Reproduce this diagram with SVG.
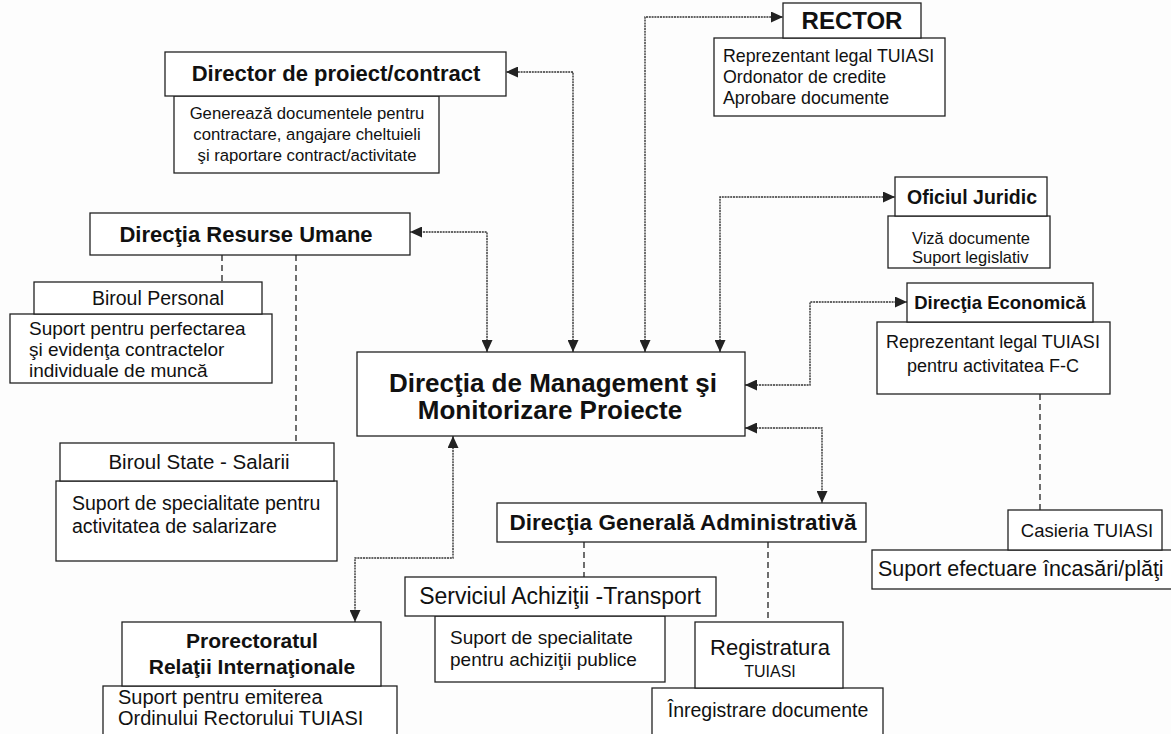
<svg xmlns="http://www.w3.org/2000/svg" width="1171" height="734" viewBox="0 0 1171 734">
<style>
.bx{fill:#fff;stroke:#222;stroke-width:1.3}
.hb{font-family:"Liberation Sans",Arial,sans-serif;font-weight:bold;fill:#111}
.t{font-family:"Liberation Sans",Arial,sans-serif;fill:#111}
.c{text-anchor:middle}
.con{fill:none;stroke:#333;stroke-width:1.4;stroke-dasharray:2 0.8}
.dash{fill:none;stroke:#222;stroke-width:1.3;stroke-dasharray:6 4}
</style>
<defs>
<marker id="ah" markerUnits="userSpaceOnUse" markerWidth="13" markerHeight="11" refX="12" refY="5.5" orient="auto-start-reverse">
<path d="M0,0 L12,5.5 L0,11 z" fill="#222"/>
</marker>
</defs>
<rect width="1171" height="734" fill="#fdfdfd"/>

<g id="connectors">
<path class="con" d="M645,352 V17 H783" marker-start="url(#ah)" marker-end="url(#ah)"/>
<path class="con" d="M573,352 V72 H506" marker-start="url(#ah)" marker-end="url(#ah)"/>
<path class="con" d="M487,352 V232 H410" marker-start="url(#ah)" marker-end="url(#ah)"/>
<path class="con" d="M720,352 V197 H895" marker-start="url(#ah)" marker-end="url(#ah)"/>
<path class="con" d="M745,385 H810 V302 H907" marker-start="url(#ah)" marker-end="url(#ah)"/>
<path class="con" d="M745,428 H822 V503" marker-start="url(#ah)" marker-end="url(#ah)"/>
<path class="con" d="M453,436 V558 H355 V622" marker-start="url(#ah)" marker-end="url(#ah)"/>
<path class="dash" d="M222,255 V282"/>
<path class="dash" d="M296,255 V443"/>
<path class="dash" d="M1040,394 V510"/>
<path class="dash" d="M584,542 V577"/>
<path class="dash" d="M768,542 V622"/>
</g>

<g id="rector">
<rect class="bx" x="714" y="38" width="231" height="78"/>
<rect class="bx" x="783" y="3" width="138" height="35"/>
<text class="hb c" x="852" y="29" font-size="24">RECTOR</text>
<text class="t" x="723" y="62" font-size="17.8">Reprezentant legal TUIASI</text>
<text class="t" x="723" y="83" font-size="17.8">Ordonator de credite</text>
<text class="t" x="723" y="104" font-size="17.8">Aprobare documente</text>
</g>

<g id="director">
<rect class="bx" x="174" y="96" width="265" height="77"/>
<rect class="bx" x="165" y="52" width="341" height="44"/>
<text class="hb c" x="336" y="81" font-size="22">Director de proiect/contract</text>
<text class="t c" x="307" y="119" font-size="16.7">Generează documentele pentru</text>
<text class="t c" x="307" y="140" font-size="16.7">contractare, angajare cheltuieli</text>
<text class="t c" x="307" y="161" font-size="16.7">şi raportare contract/activitate</text>
</g>

<g id="oficiul-juridic">
<rect class="bx" x="888" y="216" width="162" height="52"/>
<rect class="bx" x="895" y="177" width="152" height="39"/>
<text class="hb c" x="972" y="204" font-size="19.5">Oficiul Juridic</text>
<text class="t" x="912" y="244" font-size="16.5">Viză documente</text>
<text class="t" x="912" y="263" font-size="16.5">Suport legislativ</text>
</g>

<g id="resurse-umane">
<rect class="bx" x="90" y="213" width="320" height="42"/>
<text class="hb c" x="246" y="242" font-size="22">Direcţia Resurse Umane</text>
</g>

<g id="biroul-personal">
<rect class="bx" x="10" y="314" width="262" height="69"/>
<rect class="bx" x="34" y="282" width="228" height="32"/>
<text class="t c" x="158" y="305" font-size="19.5">Biroul Personal</text>
<text class="t" x="29" y="335" font-size="19">Suport pentru perfectarea</text>
<text class="t" x="29" y="356" font-size="19">şi evidenţa contractelor</text>
<text class="t" x="29" y="377" font-size="19">individuale de muncă</text>
</g>

<g id="dmmp">
<rect class="bx" x="357" y="352" width="388" height="84"/>
<text class="hb c" x="553" y="392" font-size="26">Direcţia de Management şi</text>
<text class="hb c" x="550" y="419" font-size="26">Monitorizare Proiecte</text>
</g>

<g id="directia-economica">
<rect class="bx" x="877" y="322" width="233" height="72"/>
<rect class="bx" x="907" y="283" width="186" height="39"/>
<text class="hb c" x="1000" y="309" font-size="18.5">Direcţia Economică</text>
<text class="t c" x="993" y="348" font-size="18">Reprezentant legal TUIASI</text>
<text class="t c" x="993" y="372" font-size="18">pentru activitatea F-C</text>
</g>

<g id="biroul-state">
<rect class="bx" x="56" y="481" width="281" height="80"/>
<rect class="bx" x="60" y="443" width="274" height="38"/>
<text class="t c" x="199" y="469" font-size="20.5">Biroul State - Salarii</text>
<text class="t" x="72" y="510" font-size="19.5">Suport de specialitate pentru</text>
<text class="t" x="72" y="533" font-size="19.5">activitatea de salarizare</text>
</g>

<g id="dga">
<rect class="bx" x="497" y="503" width="369" height="39"/>
<text class="hb c" x="683" y="530" font-size="22.5">Direcţia Generală Administrativă</text>
</g>

<g id="casieria">
<rect class="bx" x="872" y="550" width="310" height="39"/>
<rect class="bx" x="1008" y="510" width="154" height="40"/>
<text class="t c" x="1087" y="537" font-size="18.5">Casieria TUIASI</text>
<text class="t" x="878" y="576" font-size="21.5">Suport efectuare încasări/plăţi</text>
</g>

<g id="serviciul-achizitii">
<rect class="bx" x="435" y="616" width="230" height="66"/>
<rect class="bx" x="405" y="577" width="311" height="39"/>
<text class="t c" x="560" y="604" font-size="23">Serviciul Achiziţii -Transport</text>
<text class="t" x="450" y="644" font-size="19">Suport de specialitate</text>
<text class="t" x="450" y="666" font-size="19">pentru achiziţii publice</text>
</g>

<g id="registratura">
<rect class="bx" x="652" y="688" width="231" height="60"/>
<rect class="bx" x="695" y="622" width="148" height="66"/>
<text class="t c" x="770" y="655" font-size="22">Registratura</text>
<text class="t c" x="770" y="677" font-size="16">TUIASI</text>
<text class="t c" x="768" y="717" font-size="19.5">Înregistrare documente</text>
</g>

<g id="prorectoratul">
<rect class="bx" x="103" y="686" width="294" height="60"/>
<rect class="bx" x="122" y="622" width="259" height="64"/>
<text class="hb c" x="252" y="648" font-size="21">Prorectoratul</text>
<text class="hb c" x="252" y="674" font-size="21">Relaţii  Internaţionale</text>
<text class="t" x="118" y="704" font-size="20">Suport pentru emiterea</text>
<text class="t" x="118" y="725" font-size="20">Ordinului Rectorului TUIASI</text>
</g>
</svg>
